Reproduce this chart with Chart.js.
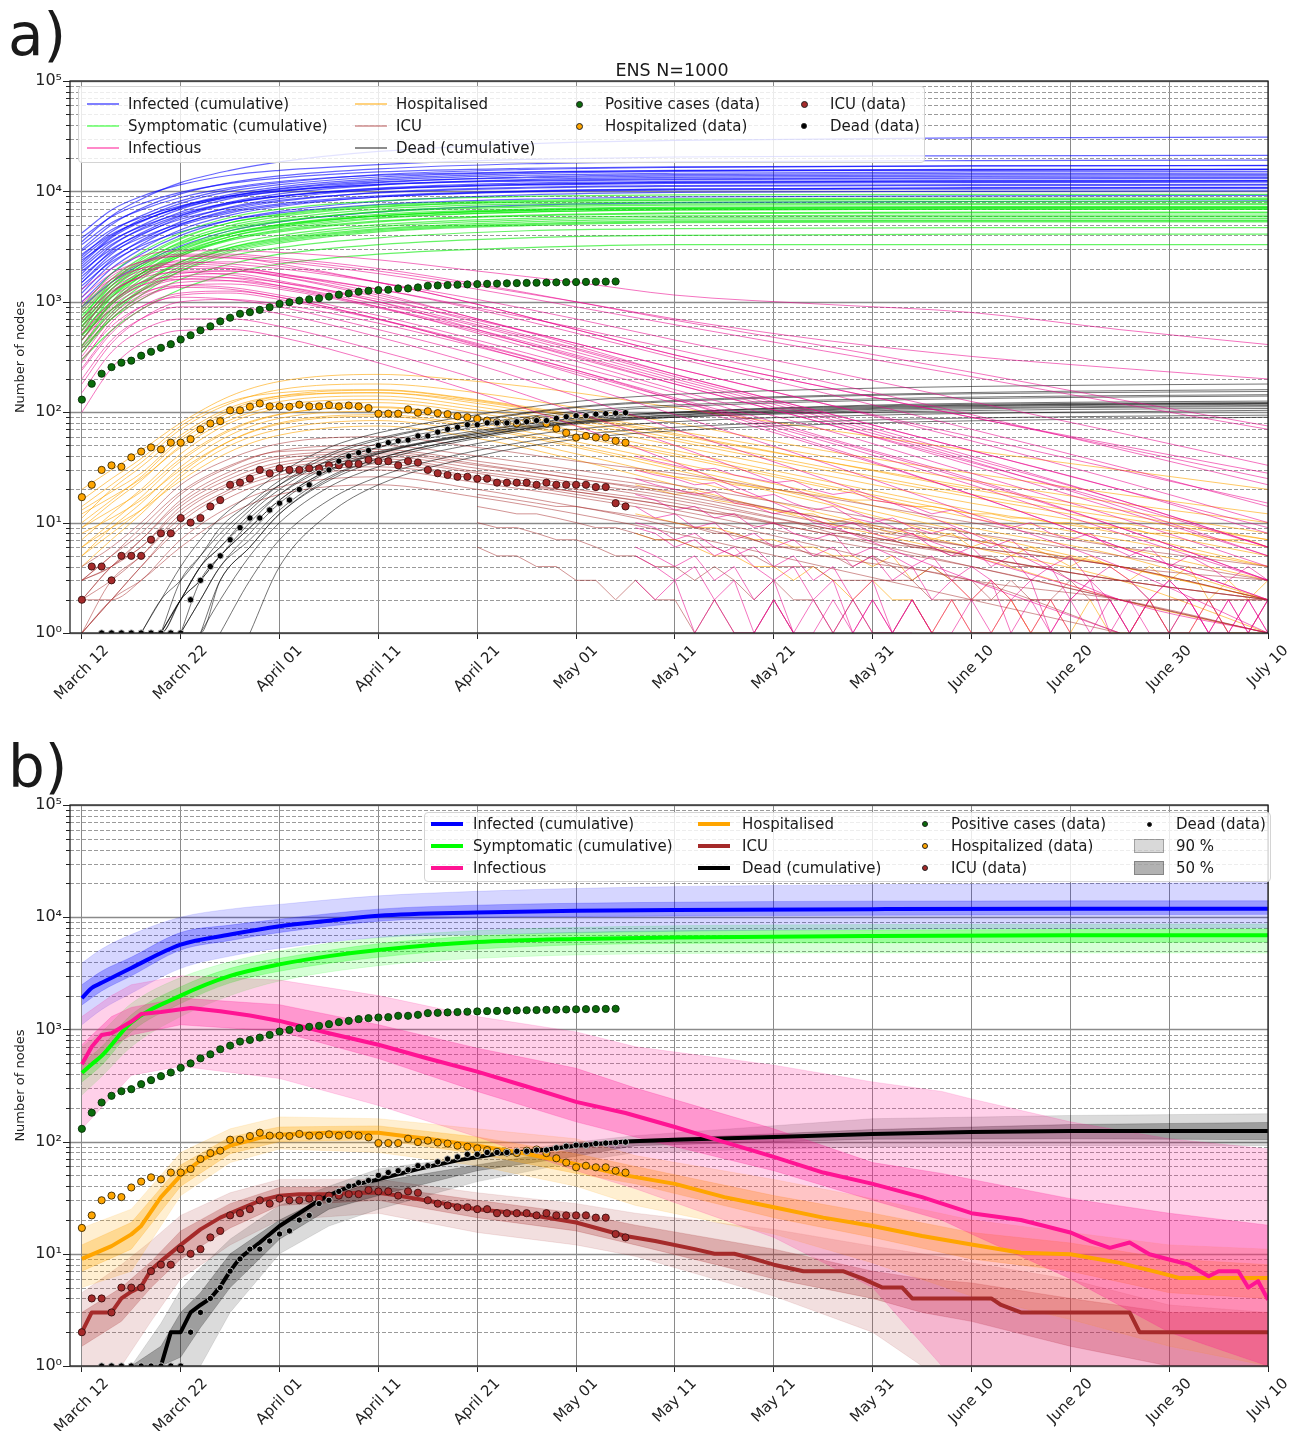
<!DOCTYPE html>
<html lang="en">
<head>
<meta charset="UTF-8">
<meta name="viewport" content="width=device-width, initial-scale=1.0">
<title>ENS N=1000</title>
<script src="https://cdn.jsdelivr.net/npm/chart.js"></script>
<style>
  body { margin: 0; background: #fff; font-family: "DejaVu Sans", sans-serif; color: #1a1a1a; }
  #page { position: relative; width: 1303px; height: 1431px; overflow: hidden; }
  canvas { position: absolute; left: 0; }
  .tag { position: absolute; left: 8px; font-size: 58px; line-height: 58px; }
  .title { position: absolute; left: 672px; top: 60px; transform: translateX(-50%); font-size: 17.5px; line-height: 20px; white-space: nowrap; }
  .legend { position: absolute; background: rgba(255,255,255,0.82); border: 1px solid #d4d4d4; border-radius: 4px; }
  .lab { position: absolute; font-size: 15px; line-height: 18px; white-space: nowrap; color: #1a1a1a; }
  .sw { position: absolute; box-sizing: border-box; }
</style>
</head>
<body>
<div id="page">
  <canvas id="chartA" width="1303" height="700" style="top:0"></canvas>
  <canvas id="chartB" width="1303" height="706" style="top:725px"></canvas>
  <div class="tag" style="top:6px">a)</div>
  <div class="title">ENS N=1000</div>
  <div class="tag" style="top:738px">b)</div>
</div>

<script>
  // days counted from March 12
  const xTickDays = [0, 10, 20, 30, 40, 50, 60, 70, 80, 90, 100, 110, 120];
  const xTickLabels = ["March 12", "March 22", "April 01", "April 11", "April 21", "May 01", "May 11",
                       "May 21", "May 31", "June 10", "June 20", "June 30", "July 10"];

  // reported figures, one per day starting March 12
  const positiveCases = [130, 181, 223, 256, 281, 293, 325, 353, 383, 413, 455, 498, 552, 600, 665, 717, 779, 805, 845, 893,
                         957, 990, 1025, 1054, 1076, 1114, 1161, 1192, 1234, 1259, 1277, 1286, 1322, 1322, 1349, 1397, 1406, 1417, 1427, 1437,
                         1446, 1455, 1462, 1470, 1476, 1482, 1488, 1494, 1500, 1505, 1510, 1515, 1519, 1523, 1527];
  const hospitalizedData = [17, 22, 30, 33, 32, 39, 44, 48, 46, 53, 53, 57, 70, 79, 83, 104, 104, 112, 120, 113,
                            113, 112, 117, 113, 113, 116, 113, 115, 113, 109, 97, 97, 97, 106, 99, 102, 98, 96, 92, 90,
                            87, 84, 81, 80, 79, 83, 85, 79, 71, 65, 59, 61, 59, 59, 55, 53];
  const icuData = [2, 4, 4, 3, 5, 5, 5, 7, 8, 8, 11, 10, 11, 14, 16, 22, 23, 25, 30, 28,
                   31, 30, 30, 31, 31, 33, 33, 34, 34, 37, 36, 36, 33, 36, 35, 30, 28, 27, 26, 26,
                   25, 25, 23, 23, 23, 23, 22, 23, 22, 22, 22, 22, 21, 21, 15, 14];
  const deadData = [null, null, 1, 1, 1, 1, 1, 1, 1, 1, 1, 2, 3, 4, 5, 7, 9, 11, 11, 13,
                    15, 16, 20, 22, 28, 30, 36, 40, 43, 45, 50, 53, 55, 56, 61, 61, 66, 70, 73, 77,
                    77, 80, 80, 80, 82, 82, 84, 84, 88, 91, 93, 93, 96, 97, 98, 99];

  // ---- a) single ensemble runs ----
  const cumKnots = [0, 3, 6, 10, 15, 20, 30, 45, 60, 90, 120];
  const infectedRuns = [
    [3500, 6000, 8500, 12000, 15500, 18500, 23000, 27000, 29000, 30500, 31000],
    [4200, 6800, 9000, 11500, 14000, 15500, 17500, 19500, 20500, 21000, 21200],
    [3000, 5000, 7000, 9500, 12000, 13800, 16000, 17800, 18500, 19000, 19200],
    [2600, 4300, 6000, 8200, 10500, 12000, 14200, 15800, 16500, 17000, 17200],
    [2200, 3800, 5300, 7300, 9400, 11000, 13000, 14500, 15200, 15600, 15800],
    [1800, 3200, 4600, 6500, 8600, 10000, 12000, 13500, 14200, 14500, 14600],
    [2900, 4500, 5800, 7400, 9000, 10200, 11600, 12600, 13000, 13300, 13400],
    [1500, 2700, 4000, 5800, 7700, 9000, 10700, 11900, 12300, 12500, 12600],
    [2000, 3300, 4500, 6100, 7800, 9000, 10400, 11400, 11800, 12000, 12100],
    [1200, 2200, 3300, 5000, 6800, 8100, 9800, 10900, 11300, 11500, 11600],
    [1700, 2800, 3800, 5100, 6600, 7700, 9100, 10100, 10500, 10800, 10900],
    [1000, 1800, 2700, 4000, 5500, 6600, 8100, 9300, 9800, 10000, 10100],
    [1400, 2300, 3200, 4300, 5500, 6400, 7600, 8500, 8900, 9100, 9200],
    [900, 1500, 2200, 3200, 4400, 5300, 6500, 7500, 7900, 8100, 8200],
    [2400, 3600, 4800, 6300, 7900, 9100, 10600, 11600, 12000, 12200, 12300],
    [3300, 5200, 6800, 8800, 10800, 12300, 14000, 15000, 15400, 15600, 15700],
    [2100, 3500, 4900, 6900, 9000, 10600, 12600, 14000, 14600, 15000, 15100],
    [1600, 2900, 4200, 6000, 8000, 9500, 11400, 12800, 13400, 13700, 13800],
    [2700, 4100, 5400, 7100, 8800, 10000, 11500, 12400, 12800, 13000, 13100],
    [1300, 2400, 3600, 5300, 7200, 8600, 10400, 11600, 12100, 12400, 12500],
    [1900, 3000, 4100, 5600, 7100, 8300, 9700, 10700, 11100, 11300, 11400],
    [1100, 2000, 3000, 4500, 6100, 7300, 8900, 10000, 10500, 10700, 10800],
    [3800, 5900, 7700, 9800, 11800, 13200, 15000, 16200, 16700, 17000, 17100],
    [2300, 3900, 5600, 7800, 10000, 11500, 13500, 14900, 15500, 15800, 15900],
    [1500, 2500, 3500, 4900, 6400, 7500, 8900, 9900, 10300, 10500, 10600],
    [2500, 4000, 5400, 7200, 9100, 10500, 12200, 13300, 13800, 14100, 14200]
  ];
  const symptomaticRuns = [
    [900, 1800, 2800, 4200, 5800, 6900, 8200, 9000, 9300, 9400, 9400],
    [700, 1500, 2400, 3700, 5200, 6200, 7500, 8300, 8600, 8700, 8700],
    [600, 1300, 2100, 3300, 4700, 5600, 6900, 7700, 8000, 8100, 8100],
    [800, 1500, 2300, 3400, 4600, 5400, 6500, 7200, 7500, 7600, 7600],
    [500, 1100, 1800, 2900, 4100, 5000, 6200, 6900, 7200, 7300, 7300],
    [450, 950, 1600, 2600, 3700, 4500, 5700, 6500, 6800, 6900, 6900],
    [650, 1200, 1800, 2700, 3700, 4400, 5400, 6100, 6400, 6500, 6500],
    [400, 850, 1400, 2300, 3300, 4000, 5000, 5700, 6000, 6100, 6100],
    [550, 1000, 1500, 2300, 3100, 3700, 4600, 5300, 5600, 5700, 5700],
    [350, 700, 1150, 1900, 2800, 3400, 4300, 4900, 5200, 5300, 5300],
    [500, 850, 1250, 1900, 2600, 3100, 3800, 4400, 4600, 4700, 4700],
    [380, 700, 1050, 1600, 2200, 2700, 3300, 3800, 4000, 4100, 4100],
    [300, 550, 850, 1300, 1800, 2200, 2700, 3100, 3300, 3300, 3300],
    [750, 1400, 2100, 3100, 4200, 5000, 6000, 6700, 7000, 7100, 7100],
    [650, 1400, 2200, 3500, 4900, 5900, 7200, 8000, 8300, 8400, 8400],
    [550, 1200, 1900, 3100, 4400, 5300, 6600, 7400, 7700, 7800, 7800],
    [700, 1300, 2000, 3000, 4100, 4900, 6000, 6700, 7000, 7100, 7100],
    [450, 1000, 1700, 2700, 3900, 4800, 6000, 6800, 7100, 7200, 7200],
    [600, 1100, 1700, 2600, 3600, 4300, 5300, 6000, 6300, 6400, 6400],
    [400, 800, 1300, 2100, 3100, 3800, 4800, 5500, 5800, 5900, 5900],
    [500, 950, 1450, 2200, 3000, 3600, 4500, 5100, 5400, 5500, 5500],
    [850, 1600, 2500, 3800, 5200, 6100, 7300, 8100, 8400, 8500, 8500],
    [350, 750, 1250, 2000, 2900, 3500, 4400, 5000, 5300, 5400, 5400],
    [600, 1150, 1800, 2800, 3900, 4700, 5800, 6500, 6800, 6900, 6900]
  ];
  const wardKnots = [0, 3, 6, 10, 15, 20, 30, 40, 50, 60, 75, 90, 105, 120];
  const infectiousRuns = [
    [1300, 2000, 2600, 2900, 2900, 2800, 2400, 1900, 1500, 1150, 950, 800, 560, 410],
    [900, 1600, 2200, 2600, 2600, 2400, 1900, 1400, 1000, 700, 450, 320, 250, 200],
    [700, 1300, 1800, 2200, 2300, 2100, 1500, 950, 560, 330, 170, 90, 50, 28],
    [1000, 1600, 2000, 2200, 2100, 1800, 1200, 700, 420, 250, 120, 60, 30, 15],
    [500, 1000, 1500, 1900, 1900, 1700, 1150, 700, 400, 220, 100, 45, 20, 8],
    [600, 1100, 1500, 1700, 1650, 1400, 900, 520, 290, 160, 70, 28, 11, 4],
    [350, 750, 1150, 1500, 1550, 1400, 950, 600, 350, 200, 90, 38, 16, 6],
    [450, 850, 1200, 1400, 1350, 1150, 750, 450, 260, 150, 60, 25, 9, 3],
    [250, 550, 900, 1200, 1250, 1100, 700, 420, 240, 130, 50, 18, 6, 2],
    [300, 600, 900, 1100, 1050, 900, 560, 330, 180, 95, 35, 12, 4, 1],
    [200, 450, 700, 900, 900, 780, 480, 270, 140, 70, 25, 8, 2, 1],
    [150, 350, 550, 700, 700, 600, 360, 200, 100, 50, 16, 5, 2, null],
    [100, 250, 420, 550, 560, 480, 280, 150, 75, 35, 10, 3, 1, null],
    [800, 1400, 1900, 2100, 2000, 1700, 1100, 650, 380, 220, 100, 45, 20, 9],
    [400, 900, 1300, 1700, 1800, 1550, 1000, 560, 310, 180, 80, 35, 15, 6],
    [550, 1200, 1700, 2400, 2500, 2200, 1500, 950, 560, 330, 170, 90, 48, 25],
    [650, 1200, 1700, 2000, 2000, 1800, 1300, 850, 520, 310, 150, 70, 32, 14],
    [380, 800, 1250, 1600, 1650, 1500, 1050, 680, 420, 250, 120, 55, 24, 10],
    [850, 1500, 2000, 2300, 2200, 2000, 1500, 1050, 700, 450, 240, 125, 65, 33],
    [280, 650, 1050, 1400, 1450, 1300, 880, 540, 320, 180, 80, 33, 13, 5],
    [700, 1250, 1650, 1850, 1750, 1500, 1000, 620, 370, 210, 95, 40, 16, 6],
    [450, 950, 1400, 1800, 1900, 1750, 1300, 880, 580, 370, 190, 95, 46, 22],
    [180, 420, 700, 1000, 1050, 950, 640, 390, 230, 130, 55, 22, 8, 3],
    [1100, 1800, 2300, 2600, 2500, 2300, 1800, 1300, 900, 620, 360, 210, 120, 70],
    [320, 700, 1100, 1350, 1300, 1100, 700, 400, 220, 120, 48, 18, 6, 2],
    [950, 1700, 2300, 2700, 2700, 2500, 2000, 1450, 1000, 680, 400, 230, 130, 75],
    [520, 1000, 1400, 1600, 1550, 1350, 900, 560, 330, 190, 85, 36, 14, 5],
    [240, 520, 850, 1150, 1200, 1050, 690, 410, 240, 135, 58, 24, 9, 3]
  ];
  const hospitalisedRuns = [
    [20, 30, 45, 80, 140, 190, 220, 190, 150, 110, 70, 45, 30, 20],
    [14, 22, 35, 70, 120, 160, 180, 150, 110, 80, 45, 28, 18, 12],
    [10, 16, 26, 55, 100, 135, 150, 120, 85, 58, 32, 18, 11, 7],
    [12, 17, 25, 48, 85, 115, 130, 105, 75, 50, 27, 15, 9, 5],
    [7, 12, 20, 42, 80, 108, 122, 98, 68, 45, 24, 13, 8, 4],
    [9, 13, 19, 38, 70, 96, 110, 88, 60, 40, 21, 11, 6, 3],
    [5, 9, 15, 32, 62, 88, 102, 80, 54, 35, 18, 9, 5, 2],
    [8, 11, 16, 30, 55, 78, 92, 72, 48, 30, 15, 7, 4, 2],
    [4, 7, 12, 26, 50, 70, 84, 65, 42, 26, 12, 6, 3, 1],
    [6, 9, 13, 24, 44, 62, 75, 58, 37, 22, 10, 5, 2, 1],
    [16, 25, 38, 75, 125, 150, 160, 130, 95, 68, 40, 24, 15, 10],
    [11, 20, 32, 62, 110, 140, 150, 125, 90, 62, 36, 21, 13, 8],
    [13, 19, 28, 58, 105, 140, 158, 128, 92, 64, 36, 20, 12, 7],
    [6, 10, 17, 36, 68, 95, 112, 90, 62, 42, 22, 12, 7, 4],
    [9, 15, 24, 50, 92, 125, 140, 112, 80, 55, 30, 17, 10, 6],
    [5, 8, 13, 28, 55, 80, 95, 75, 50, 32, 16, 8, 4, 2]
  ];
  const icuRuns = [
    [4, 6, 10, 22, 38, 52, 60, 48, 36, 28, 17, 10, 6, 4],
    [3, 5, 8, 18, 32, 45, 50, 40, 30, 22, 13, 8, 5, 3],
    [2, 4, 7, 15, 27, 38, 42, 33, 25, 18, 10, 6, 4, 2],
    [3, 4, 6, 13, 23, 33, 38, 29, 22, 16, 9, 5, 3, 2],
    [2, 3, 5, 11, 20, 29, 34, 26, 19, 14, 8, 4, 2, 1],
    [1, 2, 4, 9, 17, 25, 30, 23, 17, 12, 6, 3, 2, 1],
    [2, 2, 3, 7, 14, 21, 26, 20, 14, 10, 5, 3, 1, null],
    [1, 2, 3, 6, 12, 18, 22, 17, 12, 8, 4, 2, 1, null],
    [3, 5, 9, 19, 33, 44, 46, 36, 27, 20, 11, 7, 4, 3],
    [1, 3, 5, 12, 22, 31, 36, 28, 20, 15, 8, 5, 3, 2],
    [2, 4, 6, 14, 25, 35, 40, 31, 23, 17, 9, 5, 3, 2],
    [3, 4, 7, 16, 29, 40, 44, 34, 25, 19, 11, 6, 4, 2],
    [1, 2, 4, 10, 19, 27, 32, 25, 18, 13, 7, 4, 2, 1]
  ];
  const deadKnots = [6, 8, 10, 12, 14, 17, 20, 25, 30, 40, 50, 60, 80, 100, 120];
  const deadRuns = [
    [1, 2, 4, 7, 11, 18, 28, 48, 65, 95, 125, 145, 165, 175, 180],
    [null, 1, 2, 4, 7, 13, 22, 40, 56, 85, 112, 128, 145, 155, 160],
    [null, 1, 2, 3, 5, 10, 18, 34, 48, 74, 98, 112, 128, 136, 140],
    [null, null, 1, 2, 4, 8, 15, 29, 42, 66, 88, 100, 116, 123, 126],
    [1, 1, 2, 4, 6, 11, 18, 32, 44, 64, 82, 94, 108, 115, 118],
    [null, null, 1, 1, 3, 6, 12, 24, 36, 58, 78, 90, 103, 110, 112],
    [null, null, null, 1, 2, 5, 10, 21, 32, 52, 70, 82, 94, 100, 104],
    [null, null, null, null, 1, 3, 7, 16, 26, 45, 62, 73, 85, 91, 94],
    [null, 1, 3, 5, 8, 14, 22, 36, 48, 68, 88, 100, 114, 120, 122],
    [null, null, 1, 3, 5, 9, 16, 30, 43, 62, 80, 90, 100, 106, 108],
    [null, null, null, null, null, 1, 4, 12, 22, 40, 57, 68, 80, 86, 90],
    [1, 2, 3, 5, 9, 15, 24, 42, 58, 84, 110, 125, 142, 150, 154],
    [null, 1, 2, 4, 6, 12, 20, 37, 52, 78, 102, 116, 132, 140, 144],
    [null, null, 1, 2, 4, 7, 13, 26, 38, 60, 82, 95, 110, 117, 120],
    [1, 1, 2, 3, 5, 9, 16, 30, 42, 64, 85, 98, 112, 118, 121],
    [null, null, null, 1, 3, 6, 12, 25, 38, 60, 80, 92, 106, 112, 115]
  ];
  // low-count tails, every second day
  const tailStart = 56;
  const infectiousTails = [
    [14, 11, 12, 9, 10, 7, 8, 6, 7, 5, 6, 4, 5, 3, 4, 2, 3, 2, 3, 1, 2, 1, 2, 3, 1, 2, 1, 1, 2, 1, 1, 2, 1],
    [9, 8, 6, 7, 5, 6, 4, 3, 4, 2, 3, 1, 2, 1, 2, 1, 1, 2, 1],
    [25, 22, 20, 18, 19, 15, 14, 12, 13, 10, 9, 10, 8, 7, 8, 6, 5, 6, 4, 5, 3, 4, 2, 3, 2, 1, 2, 3, 2, 1, 2, 1, 2],
    [6, 5, 4, 5, 3, 4, 2, 3, 1, 2, 1, 2, 1, 1],
    [18, 16, 13, 14, 11, 12, 9, 10, 8, 7, 8, 5, 6, 5, 4, 5, 3, 4, 3, 2, 3, 1, 2, 1, 2, 1, 2, 1, 1, 2, 1, 2, 1],
    [40, 36, 33, 30, 31, 27, 25, 23, 24, 20, 18, 19, 16, 15, 14, 12, 13, 11, 10, 9, 10, 8, 7, 8, 6, 5, 6, 4, 5, 4, 3, 4, 3],
    [3, 2, 3, 1, 2, 1, 1, 2, 1],
    [10, 9, 7, 8, 6, 5, 6, 4, 5, 3, 4, 2, 3, 1, 2, 1, 2, 1, 1, 2, 1, 2, 1],
    [30, 27, 25, 22, 23, 19, 17, 18, 15, 13, 14, 11, 10, 11, 9, 8, 9, 7, 6, 7, 5, 4, 5, 3, 4, 3, 2, 3, 2, 1, 2, 1, 2],
    [5, 4, 3, 4, 2, 3, 1, 2, 1, 1, 2, 1, 2, 1, 1]
  ];
  const hospitalisedTails = [
    [22, 20, 18, 19, 16, 15, 14, 13, 12, 12, 10, 11, 9, 8, 9, 7, 8, 6, 7, 5, 6, 5, 4, 5, 4, 3, 4, 3, 4, 2, 3, 2, 3],
    [12, 11, 10, 9, 9, 8, 7, 7, 6, 6, 5, 5, 4, 5, 3, 4, 3, 2, 3, 2, 1, 2, 1, 2, 1, 1, 2, 1, 1, 2, 1, 1, 1],
    [30, 28, 26, 25, 24, 22, 21, 20, 19, 18, 17, 16, 16, 15, 14, 14, 13, 12, 12, 11, 11, 10, 10, 9, 9, 9, 8, 8, 8, 7, 7, 7, 6],
    [8, 7, 7, 6, 5, 5, 4, 4, 3, 4, 3, 2, 3, 2, 2, 1, 2, 1, 1, 2, 1, 1]
  ];
  const icuTailStart = 40;
  const icuTails = [
    [18, 17, 16, 15, 14, 14, 13, 12, 11, 10, 9, 9, 8, 8, 7, 6, 6, 5, 5, 4, 5, 4, 3, 4, 3, 3, 2, 3, 2, 2, 3, 2, 2, 1, 2, 1, 2, 2, 1, 1, 2],
    [10, 9, 9, 8, 7, 7, 6, 5, 5, 4, 4, 3, 4, 3, 2, 3, 2, 2, 1, 2, 1, 1, 2, 1],
    [25, 24, 22, 21, 20, 19, 18, 17, 16, 15, 14, 13, 12, 12, 11, 10, 10, 9, 8, 8, 7, 7, 6, 6, 5, 5, 5, 4, 4, 4, 3, 3, 3, 3, 2, 2, 2, 2, 2, 2, 2],
    [6, 5, 5, 4, 4, 3, 3, 2, 3, 2, 2, 1, 2, 1, 1, 2, 1],
    [14, 13, 12, 12, 11, 10, 9, 9, 8, 7, 7, 6, 6, 5, 5, 4, 4, 4, 3, 3, 3, 3, 3, 2, 2, 2, 2, 2, 2, 2, 2, 2, 2, 2, 2, 2, 2, 2, 2, 2, 2]
  ];

  // ---- b) medians with 50 % and 90 % ranges ----
  const infectedMedDays = [0, 1, 2, 5, 10, 15, 20, 25, 30, 40, 50, 60, 80, 100, 120];
  const infectedMed = [1900, 2340, 2600, 3530, 5700, 7000, 8300, 9300, 10300, 11000, 11400, 11600, 11800, 11900, 11900];
  const infectedBandDays = [0, 2, 5, 10, 15, 20, 30, 40, 56, 80, 120];
  const infectedHi90 = [3900, 5200, 7000, 10000, 11800, 13000, 15500, 17000, 18500, 19500, 20400];
  const infectedHi50 = [2500, 3300, 4400, 7300, 8500, 9600, 11800, 12800, 13500, 13900, 14000];
  const infectedLo50 = [1650, 2200, 3000, 5100, 6200, 7300, 9200, 9900, 10200, 10400, 10600];
  const infectedLo90 = [1100, 1500, 2100, 3500, 4500, 5300, 6600, 7000, 7400, 7800, 8000];

  const symptomaticMedDays = [0, 1, 2, 5, 10, 15, 20, 25, 30, 40, 50, 60, 80, 100, 120];
  const symptomaticMed = [410, 490, 580, 1150, 2000, 3000, 3800, 4500, 5100, 6000, 6400, 6600, 6800, 6900, 6900];
  const symptomaticBandDays = [0, 2, 5, 10, 15, 20, 30, 40, 56, 80, 120];
  const symptomaticHi90 = [700, 950, 1700, 2900, 4000, 5000, 6600, 7600, 8300, 8600, 8700];
  const symptomaticHi50 = [500, 700, 1350, 2400, 3500, 4300, 5800, 6800, 7500, 7700, 7800];
  const symptomaticLo50 = [340, 480, 950, 1700, 2600, 3300, 4400, 5200, 5800, 5900, 6000];
  const symptomaticLo90 = [260, 380, 700, 1300, 2000, 2700, 3700, 4300, 4700, 4800, 4800];

  const infectiousMedDays = [0, 1, 2, 3, 5, 6, 8, 11, 14, 17, 20, 25, 30, 35, 40, 45, 50, 55, 60, 65, 70, 75, 80, 85, 90,
                             95, 100, 102, 104, 106, 108, 110, 112, 114, 115, 117, 118, 119, 120];
  const infectiousMed = [490, 700, 890, 925, 1175, 1370, 1430, 1550, 1450, 1330, 1190, 925, 730, 550, 420, 310, 226, 180, 135, 99,
                         73, 53, 42, 32, 23, 20, 15.5, 13, 11.3, 12.6, 9.9, 8.9, 8, 6.3, 7, 7, 5, 5.7, 3.9];
  const infectiousBandDays = [0, 3, 5, 10, 20, 30, 40, 50, 56, 70, 80, 87, 90, 100, 110, 120];
  const infectiousHi90 = [1300, 2000, 2500, 3000, 2750, 2000, 1300, 950, 700, 480, 340, 280, 240, 150, 106, 86];
  const infectiousHi50 = [730, 1300, 1570, 1900, 1660, 1100, 680, 450, 300, 130, 65, 52, 46, 31, 23, 18];
  const infectiousLo50 = [390, 700, 890, 1100, 960, 550, 280, 150, 110, 55, 30, 20, 15, 6, 2, 1];
  const infectiousLo90 = [130, 250, 390, 470, 365, 210, 110, 55, 38, 14, 5, 1, 1, 1, 1, 1];

  const hospitalisedMedDays = [0, 3, 5, 6, 8, 10, 12, 15, 18, 20, 25, 30, 33, 35, 40, 45, 50, 55, 60, 65, 70, 75, 80, 85, 90,
                               95, 100, 105, 109, 111, 120];
  const hospitalisedMed = [9, 11.7, 14.9, 17.7, 32, 50, 68, 92, 108, 115, 120, 120, 111, 106, 92, 78, 63, 50, 42, 32, 26, 21, 17.7,
                           14.4, 12.1, 10.2, 9.9, 8.3, 6.8, 6.1, 6.1];
  const hospitalisedBandDays = [0, 5, 10, 15, 20, 30, 40, 50, 56, 70, 80, 90, 100, 110, 120];
  const hospitalisedHi90 = [17, 25, 80, 130, 166, 160, 130, 106, 75, 46, 31, 20, 15.5, 12, 11];
  const hospitalisedHi50 = [12, 19, 62, 110, 135, 138, 110, 78, 60, 33, 23, 15.5, 12.5, 9, 8];
  const hospitalisedLo50 = [7, 11, 40, 78, 100, 104, 78, 52, 42, 21, 14, 9, 7, 4.5, 4];
  const hospitalisedLo90 = [5, 7, 33, 65, 86, 80, 61, 40, 27, 15, 8.3, 4.2, 2.6, 1.5, 1];

  const icuMedDays = [0, 1, 3, 4, 5, 6, 7, 8, 10, 12, 14, 16, 18, 20, 22, 25, 28, 30, 32, 35, 38, 40, 45, 50, 55,
                      58, 62, 64, 66, 68, 70, 73, 77, 79, 81, 83, 84, 92, 93, 95, 106, 107, 120];
  const icuMed = [2, 3, 3, 4, 4.6, 5.1, 7.2, 8.6, 12, 16.5, 21, 25, 29.7, 33, 34, 34, 35, 35, 33, 29.7, 26.7, 25, 22.5, 19, 14.4,
                  13, 11, 10, 10, 9, 8, 7, 7, 6, 5, 5, 4, 4, 3.5, 3, 3, 2, 2];
  const icuBandDays = [0, 4, 7, 10, 15, 20, 30, 40, 50, 56, 70, 80, 85, 90, 100, 110, 120];
  const icuHi90 = [4.5, 8, 13, 22, 35, 46, 46, 35, 28, 23, 16.5, 11.7, 10, 8.3, 5.9, 3.5, 3];
  const icuHi50 = [3, 5, 8.5, 16, 28, 39, 40, 30, 23, 18, 11, 7, 6, 5.5, 4, 3, 3];
  const icuLo50 = [1.5, 2.5, 5, 9, 17, 27, 30, 21, 16, 12, 6, 4, 3, 2.5, 1.5, 1, 1];
  const icuLo90 = [1, 1, 2.5, 6, 12, 20, 23, 15.5, 12, 9.5, 4.2, 2, 1, 1, 1, 1, 1];

  const deadMedDays = [8, 9, 10, 11, 12, 13, 14, 15, 16, 18, 20, 22, 24, 26, 28, 30, 34, 38, 42, 46, 50, 55, 60, 70, 80, 90, 100, 120];
  const deadMed = [1, 2, 2, 3, 3.5, 4, 5.1, 7, 9.2, 12.6, 17.7, 23, 30, 36.5, 42, 46, 57, 68, 78, 83, 92, 100, 104, 110, 117, 122, 124, 124];
  const deadBandDays = [5, 8, 10, 12, 15, 20, 25, 30, 40, 50, 56, 80, 100, 120];
  const deadHi90 = [1, 2.4, 4.8, 7.5, 13.5, 27, 40, 57, 75, 99, 113, 160, 171, 177];
  const deadHi50 = [1, 1.5, 3, 4.5, 10, 20, 33, 44, 62, 86, 104, 128, 142, 148];
  const deadLo50 = [1, 1, 1.2, 2.2, 5, 13.5, 25, 33, 55, 74, 92, 105, 106, 104];
  const deadLo90 = [1, 1, 1, 1, 3, 10, 17.7, 25, 44, 66, 80, 90, 92, 92];

  const FONT = '"DejaVu Sans", sans-serif';
  Chart.defaults.font.family = FONT;
  Chart.defaults.color = '#222';

  const pts = (days, vals) => days.map((d, i) => ({ x: d, y: vals[i] }));
  const dayPts = vals => vals.map((v, i) => ({ x: i, y: v }));
  const everyOther = (start, vals) => vals.map((v, i) => ({ x: start + 2 * i, y: v }));

  // log grid: 1..9, 10..90, ... 100000
  const yTicks = [];
  for (let e = 0; e < 5; e++) for (let m = 1; m < 10; m++) yTicks.push(m * Math.pow(10, e));
  yTicks.push(100000);
  const isDecade = v => /^10*$/.test(String(v));
  const SUP = ['⁰', '¹', '²', '³', '⁴', '⁵'];

  // horizontal grid, frame, minor ticks and slanted date labels
  const frame = {
    id: 'frame',
    beforeDatasetsDraw(chart) {
      const { ctx, chartArea: a, scales: { y } } = chart;
      ctx.save();
      for (const v of yTicks) {
        const py = Math.round(y.getPixelForValue(v)) + 0.5;
        if (isDecade(v)) { ctx.setLineDash([]); ctx.strokeStyle = '#8a8a8a'; ctx.lineWidth = 1.4; }
        else { ctx.setLineDash([4, 2]); ctx.strokeStyle = '#9a9a9a'; ctx.lineWidth = 1; }
        ctx.beginPath(); ctx.moveTo(a.left, py); ctx.lineTo(a.right, py); ctx.stroke();
      }
      ctx.restore();
    },
    afterDraw(chart) {
      const { ctx, chartArea: a, scales: { x, y } } = chart;
      ctx.save();
      ctx.setLineDash([]);
      ctx.strokeStyle = '#222';
      ctx.lineWidth = 1.3;
      ctx.strokeRect(a.left, a.top, a.right - a.left, a.bottom - a.top);
      ctx.lineWidth = 1;
      for (const v of yTicks) {
        const py = Math.round(y.getPixelForValue(v)) + 0.5;
        const len = isDecade(v) ? 7 : 4;
        ctx.beginPath(); ctx.moveTo(a.left - len, py); ctx.lineTo(a.left, py); ctx.stroke();
      }
      ctx.font = '15px ' + FONT;
      ctx.fillStyle = '#222';
      ctx.textAlign = 'center';
      ctx.textBaseline = 'middle';
      xTickDays.forEach((d, i) => {
        const label = xTickLabels[i];
        const w = ctx.measureText(label).width;
        const cy = a.bottom + 10 + (w + 15) * Math.SQRT1_2 / 2;
        ctx.save();
        ctx.translate(x.getPixelForValue(d), cy);
        ctx.rotate(-Math.PI / 4);
        ctx.fillText(label, 0, 0);
        ctx.restore();
      });
      ctx.restore();
    }
  };

  function chartOptions(padTop, axisHeight) {
    return {
      responsive: false,
      animation: false,
      events: [],
      layout: { padding: { top: padTop, right: 35, left: 0, bottom: 0 } },
      plugins: { legend: { display: false }, tooltip: { enabled: false } },
      elements: { point: { radius: 0 }, line: { borderJoinStyle: 'round' } },
      scales: {
        x: {
          type: 'linear', min: -1.2, max: 120,
          afterBuildTicks: s => { s.ticks = xTickDays.map(v => ({ value: v })); },
          afterFit: s => { s.height = axisHeight; },
          ticks: { display: false },
          grid: { color: '#8a8a8a', lineWidth: 1, drawTicks: true, tickLength: 6, tickColor: '#222' },
          border: { display: false }
        },
        y: {
          type: 'logarithmic', min: 1, max: 100000,
          afterBuildTicks: s => { s.ticks = yTicks.map(v => ({ value: v })); },
          afterFit: s => { s.width = 70; },
          ticks: {
            autoSkip: false, padding: 3, color: '#222', font: { size: 16 },
            callback: v => isDecade(v) ? '10' + SUP[String(v).length - 1] : ''
          },
          grid: { display: false, drawTicks: true, tickLength: 5 },
          border: { display: false },
          title: { display: true, text: 'Number of nodes', color: '#222', font: { size: 13 }, padding: { top: 13, bottom: 0 } }
        }
      }
    };
  }

  function dotSets() {
    const dots = (vals, fill, edge, r, order) => ({
      data: dayPts(vals), showLine: false, pointRadius: r, pointBackgroundColor: fill,
      pointBorderColor: edge, pointBorderWidth: 0.9, order
    });
    return [
      dots(positiveCases, '#0b6b0b', '#062f06', 3.6, -1),
      dots(hospitalizedData, '#ffa500', '#3a2800', 3.6, -2),
      dots(icuData, '#a52a2a', '#3a0e0e', 3.6, -3),
      dots(deadData, '#000000', '#d0d0d0', 3.2, -4)
    ];
  }

  // ---- a) ----
  const runsA = [];
  function addRuns(days, runs, color, width) {
    runs.forEach(vals => runsA.push({
      data: pts(days, vals), borderColor: color, borderWidth: width, pointRadius: 0,
      fill: false, cubicInterpolationMode: 'monotone'
    }));
  }
  function addTails(start, tails, color) {
    tails.forEach(vals => runsA.push({
      data: everyOther(start, vals), borderColor: color, borderWidth: 1, pointRadius: 0, fill: false, tension: 0
    }));
  }
  addRuns(cumKnots, infectedRuns, 'rgba(0,0,255,0.6)', 1.2);
  addRuns(cumKnots, symptomaticRuns, 'rgba(0,235,0,0.6)', 1.2);
  addRuns(wardKnots, hospitalisedRuns, 'rgba(255,165,0,0.6)', 1);
  addTails(tailStart, hospitalisedTails, 'rgba(255,165,0,0.6)');
  addRuns(wardKnots, icuRuns, 'rgba(165,42,42,0.5)', 1);
  addTails(icuTailStart, icuTails, 'rgba(165,42,42,0.5)');
  addRuns(deadKnots, deadRuns, 'rgba(0,0,0,0.55)', 1);
  addRuns(wardKnots, infectiousRuns, 'rgba(235,0,140,0.55)', 1);
  addTails(tailStart, infectiousTails, 'rgba(235,0,140,0.55)');
  runsA.forEach((ds, i) => { ds.order = runsA.length - i + 10; });

  new Chart(document.getElementById('chartA'), {
    type: 'line',
    data: { datasets: runsA.concat(dotSets()) },
    options: chartOptions(81, 67),
    plugins: [frame]
  });

  // ---- b) ----
  const bandsB = [];
  const mediansB = [];
  function addSeries(medDays, med, bandDays, hi90, hi50, lo50, lo90, rgb, a90, a50, lineColor, smooth) {
    const curve = smooth ? { cubicInterpolationMode: 'monotone' } : { tension: 0 };
    const band = (hi, lo, a) => [
      Object.assign({ data: pts(bandDays, hi), borderColor: `rgba(${rgb},${a * 0.9})`, borderWidth: 0.8, pointRadius: 0,
        backgroundColor: `rgba(${rgb},${a})`, fill: '+1', order: 20 }, curve),
      Object.assign({ data: pts(bandDays, lo), borderColor: `rgba(${rgb},${a * 0.9})`, borderWidth: 0.8, pointRadius: 0,
        fill: false, order: 20 }, curve)
    ];
    bandsB.push(...band(hi90, lo90, a90), ...band(hi50, lo50, a50));
    mediansB.push(Object.assign({ data: pts(medDays, med), borderColor: lineColor, borderWidth: 4, pointRadius: 0, fill: false, order: 10 }, curve));
  }
  addSeries(infectiousMedDays, infectiousMed, infectiousBandDays, infectiousHi90, infectiousHi50, infectiousLo50, infectiousLo90,
            '255,20,147', 0.2, 0.3, '#ff1493', false);
  addSeries(infectedMedDays, infectedMed, infectedBandDays, infectedHi90, infectedHi50, infectedLo50, infectedLo90,
            '0,0,255', 0.16, 0.28, '#0000ff', true);
  addSeries(symptomaticMedDays, symptomaticMed, symptomaticBandDays, symptomaticHi90, symptomaticHi50, symptomaticLo50, symptomaticLo90,
            '0,255,0', 0.16, 0.28, '#00ff00', true);
  addSeries(hospitalisedMedDays, hospitalisedMed, hospitalisedBandDays, hospitalisedHi90, hospitalisedHi50, hospitalisedLo50, hospitalisedLo90,
            '255,165,0', 0.18, 0.3, '#ffa500', false);
  addSeries(deadMedDays, deadMed, deadBandDays, deadHi90, deadHi50, deadLo50, deadLo90,
            '0,0,0', 0.14, 0.28, '#000000', false);
  addSeries(icuMedDays, icuMed, icuBandDays, icuHi90, icuHi50, icuLo50, icuLo90,
            '165,42,42', 0.15, 0.28, '#a52a2a', false);

  new Chart(document.getElementById('chartB'), {
    type: 'line',
    data: { datasets: bandsB.concat(mediansB, dotSets()) },
    options: chartOptions(80, 65),
    plugins: [frame]
  });

  // ---- legends ----
  function legend(box, cols, rows, items) {
    const page = document.getElementById('page');
    const el = document.createElement('div');
    el.className = 'legend';
    el.style.cssText = `left:${box[0]}px;top:${box[1]}px;width:${box[2]}px;height:${box[3]}px`;
    items.forEach(([kind, color, size, text, c, r]) => {
      const cy = rows[r] - box[1];
      const sx = cols[c][0] - box[0];
      const sw = document.createElement('div');
      sw.className = 'sw';
      if (kind === 'line') {
        sw.style.cssText = `left:${sx}px;top:${cy - size / 2}px;width:32px;height:${size}px;background:${color}`;
      } else if (kind === 'dot') {
        sw.style.cssText = `left:${sx - size}px;top:${cy - size}px;width:${2 * size}px;height:${2 * size}px;border-radius:50%;background:${color};border:0.8px solid #222`;
      } else {
        sw.style.cssText = `left:${sx - 15}px;top:${cy - 7}px;width:30px;height:14px;background:${color};border:1px solid rgba(0,0,0,0.25)`;
      }
      el.appendChild(sw);
      const lab = document.createElement('div');
      lab.className = 'lab';
      lab.style.cssText = `left:${cols[c][1] - box[0]}px;top:${cy - 9}px`;
      lab.textContent = text;
      el.appendChild(lab);
    });
    page.appendChild(el);
  }

  legend([78, 86, 845, 75], [[86, 127], [354, 395], [578, 604], [803, 829]], [103, 125, 147], [
    ['line', 'rgba(0,0,255,0.5)', 1.5, 'Infected (cumulative)', 0, 0],
    ['line', 'rgba(0,255,0,0.45)', 1.5, 'Symptomatic (cumulative)', 0, 1],
    ['line', 'rgba(255,20,147,0.5)', 1.5, 'Infectious', 0, 2],
    ['line', 'rgba(255,165,0,0.5)', 1.5, 'Hospitalised', 1, 0],
    ['line', 'rgba(165,42,42,0.4)', 1.5, 'ICU', 1, 1],
    ['line', 'rgba(0,0,0,0.45)', 1.5, 'Dead (cumulative)', 1, 2],
    ['dot', '#0b6b0b', 3.5, 'Positive cases (data)', 2, 0],
    ['dot', '#ffa500', 3.5, 'Hospitalized (data)', 2, 1],
    ['dot', '#a52a2a', 3.5, 'ICU (data)', 3, 0],
    ['dot', '#000000', 2.8, 'Dead (data)', 3, 1]
  ]);

  legend([424, 812, 845, 68], [[430, 472], [697, 741], [924, 950], [1148, 1175]], [823, 845, 867], [
    ['line', '#0000ff', 4, 'Infected (cumulative)', 0, 0],
    ['line', '#00ff00', 4, 'Symptomatic (cumulative)', 0, 1],
    ['line', '#ff1493', 4, 'Infectious', 0, 2],
    ['line', '#ffa500', 4, 'Hospitalised', 1, 0],
    ['line', '#a52a2a', 4, 'ICU', 1, 1],
    ['line', '#000000', 4, 'Dead (cumulative)', 1, 2],
    ['dot', '#0b6b0b', 3, 'Positive cases (data)', 2, 0],
    ['dot', '#ffa500', 3, 'Hospitalized (data)', 2, 1],
    ['dot', '#a52a2a', 3, 'ICU (data)', 2, 2],
    ['dot', '#000000', 2.5, 'Dead (data)', 3, 0],
    ['patch', 'rgba(0,0,0,0.15)', 0, '90 %', 3, 1],
    ['patch', 'rgba(0,0,0,0.3)', 0, '50 %', 3, 2]
  ]);
</script>
</body>
</html>
